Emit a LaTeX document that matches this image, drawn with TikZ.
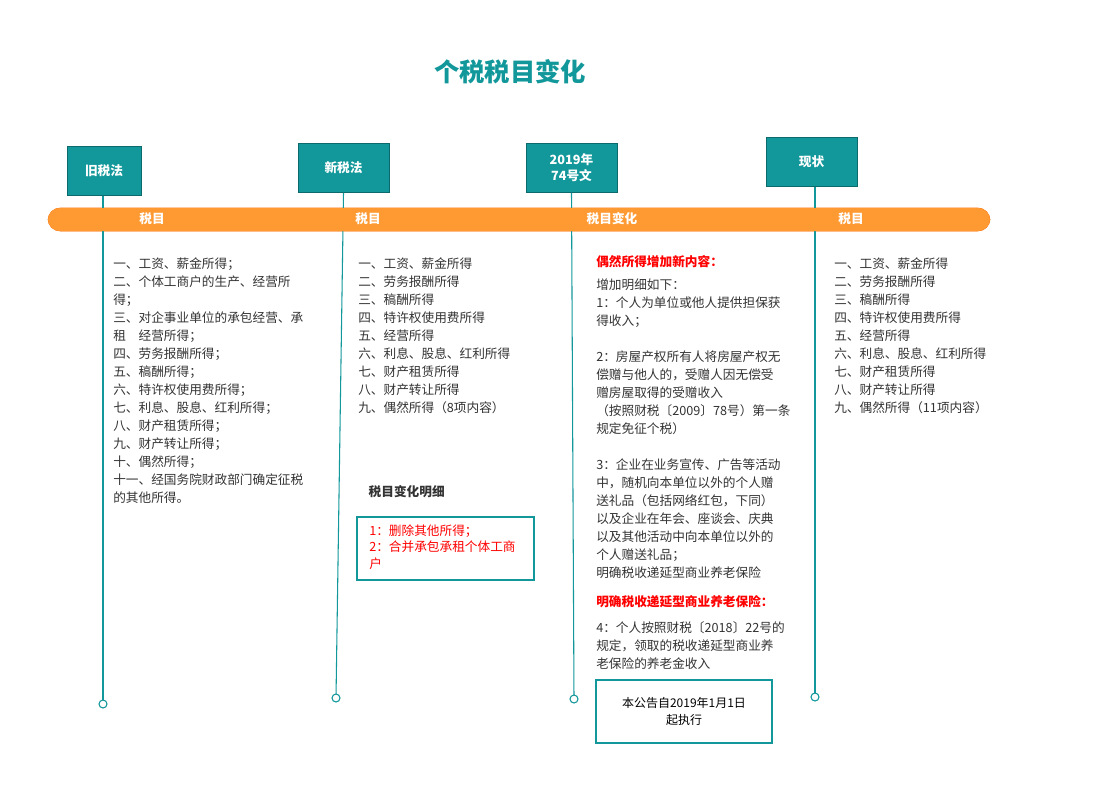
\documentclass[tikz,border=0pt]{standalone}
\usepackage{fontspec}
\setmainfont{Noto Sans CJK SC}
\usepackage{xcolor}
\usetikzlibrary{positioning}
\definecolor{tealc}{HTML}{12979A}
\definecolor{orangec}{HTML}{FF9A33}
\definecolor{txtc}{HTML}{333333}
\tikzstyle{hdr}=[rectangle, fill=tealc, draw=tealc!70!black, text=white, font=\fontsize{9.5}{12}\selectfont\bfseries, align=center, inner sep=0pt]
\tikzstyle{barlabel}=[text=white, font=\fontsize{9.5}{12}\selectfont\bfseries]
\tikzstyle{coltext}=[anchor=north west, align=left, text=txtc, inner sep=0pt, font=\fontsize{9.5}{13.5}\selectfont]
\tikzstyle{redtext}=[anchor=north west, align=left, text=red, inner sep=0pt, font=\fontsize{9.5}{13.5}\selectfont\bfseries]
\tikzstyle{notebox}=[rectangle, draw=tealc, thick, inner sep=0pt]
\tikzstyle{axis}=[tealc, thick]
\begin{document}
\begin{tikzpicture}[x=0.75pt, y=-0.75pt]
  \useasboundingbox (0,0) rectangle (1093,804);
  %Title
  \node[text=tealc, font=\fontsize{19}{22}\selectfont\bfseries] (title) at (510,72) {个税税目变化};

  %Bar
  \fill[orangec, draw=orange!80!red] (48,208) [rounded corners=9pt] rectangle (990,231);
  \node[barlabel] (b1) at (152,219) {税目};
  \node[barlabel] (b2) at (368,219) {税目};
  \node[barlabel] (b3) at (612,219) {税目变化};
  \node[barlabel] (b4) at (851,219) {税目};

  %Headers
  \node[hdr, minimum width=74pt*0.75, minimum height=49pt*0.75] (h1) at (104,171) {旧税法};
  \node[hdr, minimum width=91pt*0.75, minimum height=49pt*0.75] (h2) at (343.5,168) {新税法};
  \node[hdr, minimum width=91pt*0.75, minimum height=49pt*0.75] (h3) at (571.5,168) {2019年\\74号文};
  \node[hdr, minimum width=91pt*0.75, minimum height=49pt*0.75] (h4) at (811.5,162) {现状};

  %Timelines
  \coordinate (e1) at (103,704);
  \coordinate (e2) at (336,698);
  \coordinate (e3) at (574,699);
  \coordinate (e4) at (815,697);
  \draw[axis] (h1.south -| e1) -- (e1);
  \draw[axis] (h2.south) -- (e2);
  \draw[axis] (h3.south) -- (e3);
  \draw[axis] (h4.south -| e4) -- (e4);
  \foreach \e in {e1,e2,e3,e4}
    \draw[tealc, thick, fill=white] (\e) circle (4);
  \fill[orangec] (48,208) [rounded corners=9pt] rectangle (990,231);
  \node[barlabel] at (b1) {税目};
  \node[barlabel] at (b2) {税目};
  \node[barlabel] at (b3) {税目变化};
  \node[barlabel] at (b4) {税目};

  %Columns
  \node[coltext] (c1) at (113,257) {一、工资、薪金所得；\\二、个体工商户的生产、经营所\\得；\\三、对企事业单位的承包经营、承\\租\quad 经营所得；\\四、劳务报酬所得；\\五、稿酬所得；\\六、特许权使用费所得；\\七、利息、股息、红利所得；\\八、财产租赁所得；\\九、财产转让所得；\\十、偶然所得；\\十一、经国务院财政部门确定征税\\的其他所得。};
  \node[coltext] (c2) at (358,257) {一、工资、薪金所得\\二、劳务报酬所得\\三、稿酬所得\\四、特许权使用费所得\\五、经营所得\\六、利息、股息、红利所得\\七、财产租赁所得\\八、财产转让所得\\九、偶然所得（8项内容）};
  \node[coltext] (c4) at (834,257) {一、工资、薪金所得\\二、劳务报酬所得\\三、稿酬所得\\四、特许权使用费所得\\五、经营所得\\六、利息、股息、红利所得\\七、财产租赁所得\\八、财产转让所得\\九、偶然所得（11项内容）};

  \node[redtext] (r1) at (596,255) {偶然所得增加新内容：};
  \node[coltext] (c3) at (596,279) {增加明细如下：\\1：个人为单位或他人提供担保获\\得收入；\\[13.5pt]2：房屋产权所有人将房屋产权无\\偿赠与他人的，受赠人因无偿受\\赠房屋取得的受赠收入\\（按照财税〔2009〕78号）第一条\\规定免征个税）\\[13.5pt]3：企业在业务宣传、广告等活动\\中，随机向本单位以外的个人赠\\送礼品（包括网络红包，下同）\\以及企业在年会、座谈会、庆典\\以及其他活动中向本单位以外的\\个人赠送礼品；\\明确税收递延型商业养老保险};
  \node[redtext] (r2) at (596,595) {明确税收递延型商业养老保险：};
  \node[coltext] (c3b) at (596,621) {4：个人按照财税〔2018〕22号的\\规定，领取的税收递延型商业养\\老保险的养老金收入};

  %Detail box
  \node[anchor=west, text=txtc, font=\fontsize{9.5}{12}\selectfont\bfseries] (dt) at (364,492) {税目变化明细};
  \draw[notebox] (357,517) rectangle (534,580);
  \node[coltext, text=red, font=\fontsize{9.5}{12.5}\selectfont] (d1) at (369,524) {1：删除其他所得；\\2：合并承包承租个体工商\\户};

  %Bottom box
  \node[notebox, minimum width=176pt*0.75, minimum height=63pt*0.75, align=center, text=black, font=\fontsize{9}{13}\selectfont] (fin) at (684,711.5) {本公告自2019年1月1日\\起执行};
\end{tikzpicture}
\end{document}
